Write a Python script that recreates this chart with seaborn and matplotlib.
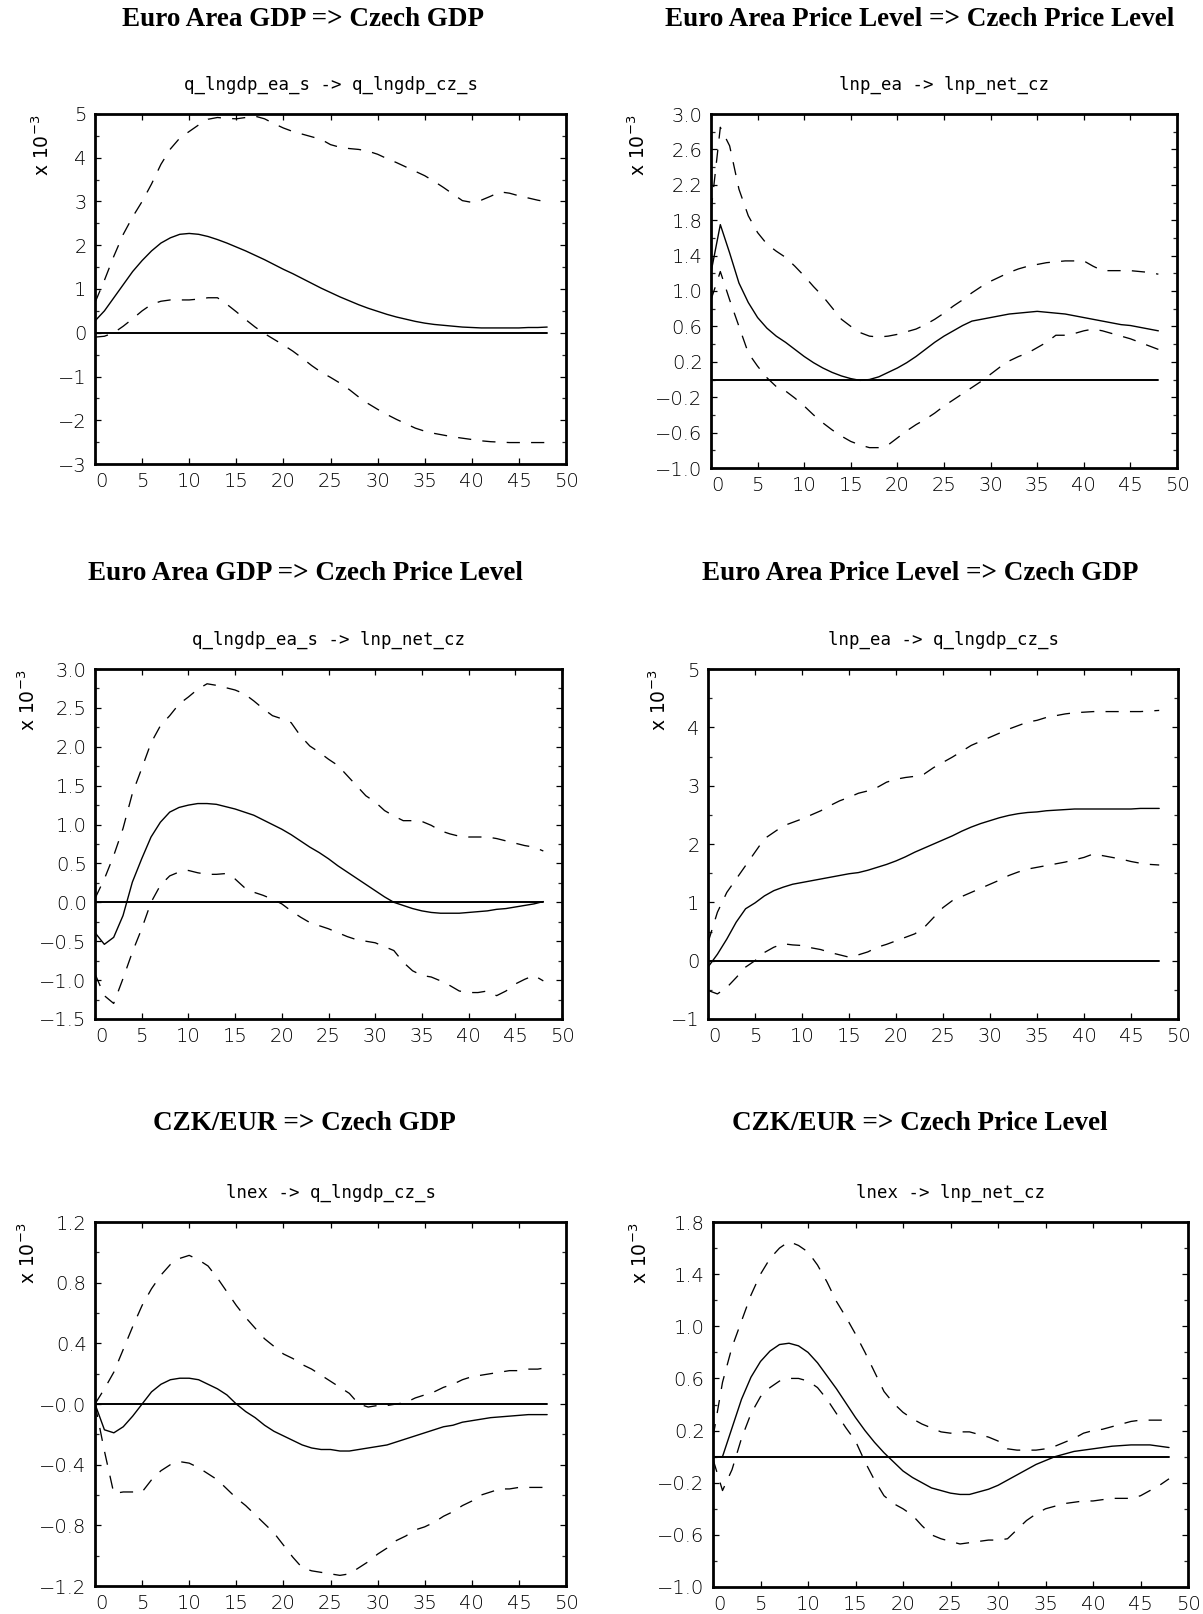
import numpy as np
import pandas as pd
import matplotlib
matplotlib.use("Agg")
import matplotlib.pyplot as plt
from matplotlib.ticker import MultipleLocator, FixedLocator
import seaborn as sns

# ---------------- data (units: x 10^-3) ----------------
steps = list(range(49))

titles = ["Euro Area GDP => Czech GDP",
          "Euro Area Price Level => Czech Price Level",
          "Euro Area GDP => Czech Price Level",
          "Euro Area Price Level => Czech GDP",
          "CZK/EUR => Czech GDP",
          "CZK/EUR => Czech Price Level"]

subtitles = ["q_lngdp_ea_s -> q_lngdp_cz_s",
             "lnp_ea -> lnp_net_cz",
             "q_lngdp_ea_s -> lnp_net_cz",
             "lnp_ea -> q_lngdp_cz_s",
             "lnex -> q_lngdp_cz_s",
             "lnex -> lnp_net_cz"]

gdp_gdp_mid = [0.27,0.50,0.80,1.10,1.40,1.65,1.87,2.05,2.17,2.25,2.27,2.25,2.20,2.13,2.05,1.96,1.87,1.77,1.67,1.56,
               1.45,1.35,1.24,1.13,1.02,0.92,0.82,0.73,0.64,0.56,0.49,0.42,0.36,0.31,0.26,0.22,0.19,0.17,0.15,0.13,
               0.12,0.11,0.11,0.11,0.11,0.11,0.12,0.12,0.13]
gdp_gdp_up = [0.69,1.20,1.75,2.25,2.65,3.00,3.40,3.85,4.20,4.45,4.60,4.75,4.88,4.92,4.90,4.89,4.92,4.95,4.89,4.78,
              4.68,4.60,4.54,4.48,4.42,4.30,4.24,4.21,4.19,4.15,4.08,3.98,3.89,3.79,3.69,3.59,3.46,3.32,3.17,3.02,
              2.98,3.03,3.12,3.22,3.19,3.13,3.08,3.03,2.99]
gdp_gdp_lo = [-0.10,-0.08,0.00,0.15,0.32,0.50,0.65,0.72,0.75,0.75,0.75,0.77,0.80,0.80,0.65,0.48,0.30,0.13,-0.02,-0.15,
              -0.28,-0.42,-0.58,-0.75,-0.90,-1.02,-1.15,-1.30,-1.47,-1.62,-1.75,-1.87,-1.98,-2.08,-2.18,-2.25,-2.30,-2.34,-2.38,-2.41,
              -2.44,-2.47,-2.49,-2.50,-2.51,-2.51,-2.51,-2.51,-2.51]

p_p_mid = [1.21,1.75,1.43,1.09,0.87,0.70,0.58,0.49,0.42,0.34,0.26,0.19,0.13,0.08,0.04,0.01,-0.01,0.00,0.03,0.08,
           0.13,0.19,0.26,0.34,0.42,0.49,0.55,0.61,0.66,0.68,0.70,0.72,0.74,0.75,0.76,0.77,0.76,0.75,0.74,0.72,
           0.70,0.68,0.66,0.64,0.62,0.61,0.59,0.57,0.55]
p_p_up = [1.90,2.85,2.64,2.15,1.85,1.66,1.53,1.45,1.38,1.28,1.17,1.05,0.94,0.81,0.68,0.60,0.53,0.49,0.48,0.49,
          0.51,0.54,0.57,0.62,0.68,0.75,0.83,0.90,0.98,1.05,1.11,1.16,1.21,1.25,1.28,1.30,1.32,1.33,1.34,1.34,
          1.34,1.28,1.23,1.23,1.23,1.23,1.22,1.21,1.19]
p_p_lo = [0.90,1.22,0.90,0.60,0.30,0.15,0.02,-0.08,-0.13,-0.21,-0.30,-0.40,-0.49,-0.57,-0.64,-0.70,-0.74,-0.77,-0.77,-0.74,
          -0.66,-0.58,-0.51,-0.45,-0.38,-0.30,-0.23,-0.16,-0.09,-0.02,0.06,0.14,0.21,0.26,0.30,0.36,0.42,0.50,0.50,0.52,
          0.55,0.57,0.55,0.52,0.49,0.46,0.42,0.38,0.34]

gdp_p_mid = [-0.39,-0.54,-0.45,-0.17,0.26,0.56,0.84,1.03,1.16,1.22,1.25,1.27,1.27,1.26,1.23,1.20,1.16,1.12,1.06,1.00,
             0.94,0.87,0.79,0.71,0.64,0.56,0.47,0.39,0.31,0.23,0.15,0.07,0.00,-0.04,-0.08,-0.11,-0.13,-0.14,-0.14,-0.14,
             -0.13,-0.12,-0.11,-0.09,-0.08,-0.06,-0.04,-0.02,0.01]
gdp_p_up = [0.05,0.30,0.60,0.95,1.40,1.72,2.05,2.27,2.40,2.55,2.64,2.74,2.81,2.79,2.76,2.73,2.68,2.59,2.49,2.40,
            2.36,2.31,2.14,2.01,1.93,1.84,1.76,1.63,1.50,1.37,1.29,1.18,1.11,1.05,1.05,1.04,0.99,0.92,0.88,0.85,
            0.84,0.84,0.84,0.82,0.79,0.76,0.73,0.71,0.66]
gdp_p_lo = [-0.92,-1.20,-1.30,-0.98,-0.64,-0.34,0.00,0.22,0.34,0.39,0.41,0.38,0.36,0.36,0.37,0.30,0.19,0.13,0.09,0.04,
            -0.02,-0.11,-0.19,-0.26,-0.30,-0.34,-0.39,-0.44,-0.48,-0.50,-0.52,-0.57,-0.62,-0.77,-0.88,-0.94,-0.96,-1.01,-1.07,-1.14,
            -1.16,-1.16,-1.14,-1.20,-1.14,-1.05,-0.99,-0.94,-1.01]

p_gdp_mid = [-0.11,0.11,0.37,0.66,0.89,0.99,1.11,1.20,1.26,1.31,1.34,1.37,1.40,1.43,1.46,1.49,1.51,1.55,1.60,1.65,
             1.71,1.78,1.86,1.93,2.00,2.07,2.14,2.22,2.29,2.35,2.40,2.45,2.49,2.52,2.54,2.55,2.57,2.58,2.59,2.60,
             2.60,2.60,2.60,2.60,2.60,2.60,2.61,2.61,2.61]
p_gdp_up = [0.31,0.83,1.17,1.40,1.63,1.86,2.09,2.20,2.31,2.37,2.43,2.50,2.57,2.66,2.74,2.80,2.87,2.91,2.97,3.06,
            3.11,3.14,3.16,3.20,3.31,3.40,3.49,3.59,3.69,3.76,3.83,3.90,3.97,4.03,4.09,4.12,4.17,4.20,4.23,4.25,
            4.26,4.27,4.27,4.27,4.27,4.27,4.27,4.28,4.29]
p_gdp_lo = [-0.51,-0.57,-0.46,-0.29,-0.11,0.00,0.14,0.23,0.29,0.27,0.26,0.22,0.19,0.14,0.10,0.06,0.10,0.15,0.23,0.28,
            0.34,0.40,0.46,0.57,0.74,0.91,1.03,1.10,1.17,1.24,1.31,1.38,1.46,1.52,1.57,1.60,1.63,1.66,1.69,1.73,
            1.77,1.83,1.80,1.77,1.74,1.70,1.67,1.65,1.64]

ex_gdp_mid = [0.00,-0.17,-0.19,-0.15,-0.08,0.00,0.08,0.13,0.16,0.17,0.17,0.16,0.13,0.10,0.06,0.00,-0.05,-0.09,-0.14,-0.18,
              -0.21,-0.24,-0.27,-0.29,-0.30,-0.30,-0.31,-0.31,-0.30,-0.29,-0.28,-0.27,-0.25,-0.23,-0.21,-0.19,-0.17,-0.15,-0.14,-0.12,
              -0.11,-0.10,-0.09,-0.085,-0.08,-0.075,-0.07,-0.07,-0.07]
ex_gdp_up = [0.00,0.10,0.21,0.36,0.51,0.65,0.76,0.85,0.92,0.96,0.98,0.95,0.91,0.83,0.74,0.65,0.57,0.50,0.43,0.38,
             0.33,0.30,0.26,0.23,0.19,0.15,0.11,0.07,0.00,-0.02,-0.01,-0.01,0.00,0.01,0.04,0.06,0.08,0.11,0.13,0.16,
             0.18,0.19,0.20,0.21,0.22,0.22,0.23,0.23,0.24]
ex_gdp_lo = [0.00,-0.31,-0.59,-0.58,-0.58,-0.58,-0.50,-0.44,-0.40,-0.38,-0.39,-0.42,-0.46,-0.50,-0.56,-0.62,-0.67,-0.73,-0.79,-0.85,
             -0.93,-1.01,-1.08,-1.10,-1.11,-1.12,-1.13,-1.12,-1.08,-1.04,-0.99,-0.95,-0.90,-0.87,-0.83,-0.81,-0.78,-0.74,-0.71,-0.67,
             -0.64,-0.60,-0.58,-0.56,-0.56,-0.55,-0.55,-0.55,-0.55]

ex_p_mid = [0.00,0.00,0.22,0.44,0.61,0.73,0.81,0.86,0.87,0.85,0.80,0.72,0.62,0.52,0.41,0.30,0.20,0.11,0.03,-0.04,
            -0.11,-0.16,-0.20,-0.24,-0.26,-0.28,-0.29,-0.29,-0.27,-0.25,-0.22,-0.18,-0.14,-0.10,-0.06,-0.03,0.00,0.02,0.04,0.05,
            0.06,0.07,0.08,0.085,0.09,0.09,0.09,0.08,0.07]
ex_p_up = [0.15,0.57,0.84,1.04,1.24,1.40,1.52,1.60,1.65,1.62,1.57,1.47,1.34,1.19,1.07,0.94,0.80,0.65,0.50,0.41,
           0.34,0.29,0.25,0.22,0.19,0.18,0.19,0.19,0.17,0.15,0.12,0.06,0.05,0.05,0.05,0.06,0.08,0.11,0.14,0.18,
           0.20,0.21,0.23,0.25,0.27,0.28,0.28,0.28,0.28]
ex_p_lo = [-0.02,-0.26,-0.10,0.14,0.33,0.46,0.53,0.58,0.60,0.60,0.58,0.53,0.44,0.33,0.22,0.12,-0.04,-0.18,-0.30,-0.36,
           -0.40,-0.45,-0.53,-0.60,-0.63,-0.65,-0.67,-0.66,-0.65,-0.64,-0.64,-0.63,-0.56,-0.49,-0.44,-0.40,-0.38,-0.36,-0.35,-0.34,
           -0.34,-0.33,-0.32,-0.32,-0.32,-0.30,-0.26,-0.22,-0.17]

mids = [gdp_gdp_mid, p_p_mid, gdp_p_mid, p_gdp_mid, ex_gdp_mid, ex_p_mid]
ups = [gdp_gdp_up, p_p_up, gdp_p_up, p_gdp_up, ex_gdp_up, ex_p_up]
los = [gdp_gdp_lo, p_p_lo, gdp_p_lo, p_gdp_lo, ex_gdp_lo, ex_p_lo]

ylims = [(-3, 5), (-1.0, 3.0), (-1.5, 3.0), (-1, 5), (-1.2, 1.2), (-1.0, 1.8)]
yticks = [[-3, -2, -1, 0, 1, 2, 3, 4, 5],
          [-1.0, -0.6, -0.2, 0.2, 0.6, 1.0, 1.4, 1.8, 2.2, 2.6, 3.0],
          [-1.5, -1.0, -0.5, 0.0, 0.5, 1.0, 1.5, 2.0, 2.5, 3.0],
          [-1, 0, 1, 2, 3, 4, 5],
          [-1.2, -0.8, -0.4, 0.0, 0.4, 0.8, 1.2],
          [-1.0, -0.6, -0.2, 0.2, 0.6, 1.0, 1.4, 1.8]]
ytick_labels = [["\u22123", "\u22122", "\u22121", "0", "1", "2", "3", "4", "5"],
                ["\u22121.0", "\u22120.6", "\u22120.2", "0.2", "0.6", "1.0", "1.4", "1.8", "2.2", "2.6", "3.0"],
                ["\u22121.5", "\u22121.0", "\u22120.5", "0.0", "0.5", "1.0", "1.5", "2.0", "2.5", "3.0"],
                ["\u22121", "0", "1", "2", "3", "4", "5"],
                ["\u22121.2", "\u22120.8", "\u22120.4", "\u22120.0", "0.4", "0.8", "1.2"],
                ["\u22121.0", "\u22120.6", "\u22120.2", "0.2", "0.6", "1.0", "1.4", "1.8"]]
yminor = [0.5, 0.2, 0.25, 0.5, 0.2, 0.2]
xticks = [0, 5, 10, 15, 20, 25, 30, 35, 40, 45, 50]

# ---------------- layout (pixels) ----------------
W, H = 1203, 1614
# left, right, top, bottom
boxes = [(95, 566, 114, 464), (711, 1177, 114, 468),
         (95, 562, 669, 1019), (708, 1178, 669, 1019),
         (95, 566, 1222, 1586), (713, 1188, 1222, 1587)]
title_pos = [(303, 20), (920, 20), (305, 574), (920, 574), (304, 1123), (920, 1123)]
ylab_x = [42, 638, 28, 659, 28, 640]

sns.set_theme(style="ticks")
plt.rcParams["font.family"] = ["DejaVu Sans"]

fig = plt.figure(figsize=(W / 100, H / 100), dpi=100)
fig.patch.set_facecolor("white")

DASH = (0, (10, 8.5))

for i in range(6):
    l, r, t, b = boxes[i]
    ax = fig.add_axes([l / W, 1 - b / H, (r - l) / W, (b - t) / H])
    ax.set_facecolor("white")
    df = pd.DataFrame({"step": steps, "mid": mids[i], "up": ups[i], "lo": los[i],
                       "zero": np.zeros(len(steps))})
    sns.lineplot(data=df, x="step", y="zero", ax=ax, color="black", lw=1.4)
    sns.lineplot(data=df, x="step", y="mid", ax=ax, color="black", lw=1.0)
    sns.lineplot(data=df, x="step", y="up", ax=ax, color="black", lw=0.95)
    sns.lineplot(data=df, x="step", y="lo", ax=ax, color="black", lw=0.95)
    ax.lines[2].set_linestyle(DASH)
    ax.lines[3].set_linestyle(DASH)
    ax.set_xlim(0, 50)
    ax.set_ylim(*ylims[i])
    ax.set_xlabel("")
    ax.set_ylabel("")
    ax.xaxis.set_major_locator(FixedLocator(xticks))
    ax.set_xticklabels([str(v) for v in xticks])
    ax.yaxis.set_major_locator(FixedLocator(yticks[i]))
    ax.set_yticklabels(ytick_labels[i])
    ax.yaxis.set_minor_locator(MultipleLocator(yminor[i]))
    for s in ax.spines.values():
        s.set_visible(True)
        s.set_linewidth(2.0)
        s.set_color("black")
    ax.tick_params(axis="both", which="major", direction="in", length=4.5, width=0.9,
                   top=True, right=True, labelsize=14, colors="black", pad=6)
    ax.tick_params(axis="y", which="minor", direction="in", length=2.8, width=0.9,
                   left=True, right=True)
    ax.tick_params(axis="x", which="minor", bottom=False, top=False)
    for lab in ax.get_xticklabels() + ax.get_yticklabels():
        lab.set_fontweight("light")
        lab.set_color("black")
    ax.get_xticklabels()[0].set_horizontalalignment("left")
    ax.grid(False)

    # subtitle (~28 px above the frame)
    ax.text(0.5, 1.0 + 20 / (b - t), subtitles[i], transform=ax.transAxes,
            ha="center", va="bottom", fontsize=12.5, family="DejaVu Sans Mono",
            color="black")

    # y-axis scale label
    fig.text(ylab_x[i] / W, 1 - (t + 1) / H, "x 10$^{-3}$", rotation=90, ha="center",
             va="top", fontsize=13.5, color="black")

    # panel title
    tx, ty = title_pos[i]
    fig.text(tx / W, 1 - ty / H, titles[i], ha="center", va="center",
             fontsize=19.5, fontweight="bold", family="Liberation Serif", color="black")

fig.savefig("out.png", dpi=100, facecolor="white")
